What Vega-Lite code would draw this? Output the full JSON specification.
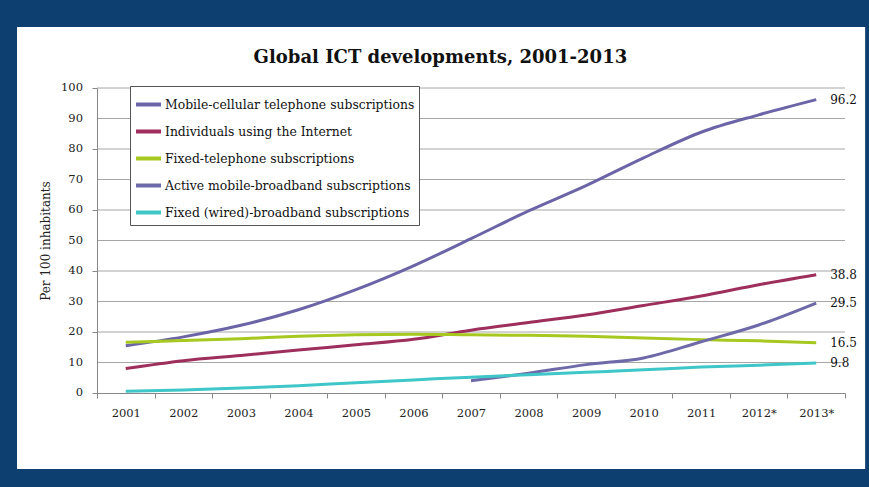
{
  "$schema": "https://vega.github.io/schema/vega-lite/v6.json",
  "width": 748,
  "height": 305,
  "autosize": {"type": "none"},
  "padding": {"left": 97, "top": 88, "right": 24, "bottom": 94},
  "background": "#0d3f70",
  "title": {
    "text": "Global ICT developments, 2001-2013",
    "font": "DejaVu Serif",
    "fontSize": 18,
    "fontWeight": "bold",
    "color": "#111111",
    "anchor": "middle",
    "frame": "bounds",
    "offset": -40,
    "dx": -5
  },
  "config": {
    "view": {"stroke": null}
  },
  "datasets": {
    "series": [
      {"series": "Mobile-cellular telephone subscriptions", "year": 2001, "value": 15.5},
      {"series": "Mobile-cellular telephone subscriptions", "year": 2002, "value": 18.4},
      {"series": "Mobile-cellular telephone subscriptions", "year": 2003, "value": 22.2},
      {"series": "Mobile-cellular telephone subscriptions", "year": 2004, "value": 27.3},
      {"series": "Mobile-cellular telephone subscriptions", "year": 2005, "value": 33.9},
      {"series": "Mobile-cellular telephone subscriptions", "year": 2006, "value": 41.7},
      {"series": "Mobile-cellular telephone subscriptions", "year": 2007, "value": 50.6},
      {"series": "Mobile-cellular telephone subscriptions", "year": 2008, "value": 59.7},
      {"series": "Mobile-cellular telephone subscriptions", "year": 2009, "value": 68.0},
      {"series": "Mobile-cellular telephone subscriptions", "year": 2010, "value": 77.1},
      {"series": "Mobile-cellular telephone subscriptions", "year": 2011, "value": 85.5},
      {"series": "Mobile-cellular telephone subscriptions", "year": 2012, "value": 91.2},
      {"series": "Mobile-cellular telephone subscriptions", "year": 2013, "value": 96.2},
      {"series": "Individuals using the Internet", "year": 2001, "value": 8.0},
      {"series": "Individuals using the Internet", "year": 2002, "value": 10.6},
      {"series": "Individuals using the Internet", "year": 2003, "value": 12.3},
      {"series": "Individuals using the Internet", "year": 2004, "value": 14.1},
      {"series": "Individuals using the Internet", "year": 2005, "value": 15.8},
      {"series": "Individuals using the Internet", "year": 2006, "value": 17.6},
      {"series": "Individuals using the Internet", "year": 2007, "value": 20.6},
      {"series": "Individuals using the Internet", "year": 2008, "value": 23.1},
      {"series": "Individuals using the Internet", "year": 2009, "value": 25.6},
      {"series": "Individuals using the Internet", "year": 2010, "value": 28.7},
      {"series": "Individuals using the Internet", "year": 2011, "value": 31.8},
      {"series": "Individuals using the Internet", "year": 2012, "value": 35.5},
      {"series": "Individuals using the Internet", "year": 2013, "value": 38.8},
      {"series": "Fixed-telephone subscriptions", "year": 2001, "value": 16.6},
      {"series": "Fixed-telephone subscriptions", "year": 2002, "value": 17.2},
      {"series": "Fixed-telephone subscriptions", "year": 2003, "value": 17.8},
      {"series": "Fixed-telephone subscriptions", "year": 2004, "value": 18.6},
      {"series": "Fixed-telephone subscriptions", "year": 2005, "value": 19.1},
      {"series": "Fixed-telephone subscriptions", "year": 2006, "value": 19.3},
      {"series": "Fixed-telephone subscriptions", "year": 2007, "value": 19.1},
      {"series": "Fixed-telephone subscriptions", "year": 2008, "value": 18.9},
      {"series": "Fixed-telephone subscriptions", "year": 2009, "value": 18.6},
      {"series": "Fixed-telephone subscriptions", "year": 2010, "value": 18.0},
      {"series": "Fixed-telephone subscriptions", "year": 2011, "value": 17.5},
      {"series": "Fixed-telephone subscriptions", "year": 2012, "value": 17.1},
      {"series": "Fixed-telephone subscriptions", "year": 2013, "value": 16.5},
      {"series": "Active mobile-broadband subscriptions", "year": 2007, "value": 4.0},
      {"series": "Active mobile-broadband subscriptions", "year": 2008, "value": 6.5},
      {"series": "Active mobile-broadband subscriptions", "year": 2009, "value": 9.3},
      {"series": "Active mobile-broadband subscriptions", "year": 2010, "value": 11.5},
      {"series": "Active mobile-broadband subscriptions", "year": 2011, "value": 16.8},
      {"series": "Active mobile-broadband subscriptions", "year": 2012, "value": 22.3},
      {"series": "Active mobile-broadband subscriptions", "year": 2013, "value": 29.5},
      {"series": "Fixed (wired)-broadband subscriptions", "year": 2001, "value": 0.6},
      {"series": "Fixed (wired)-broadband subscriptions", "year": 2002, "value": 1.0},
      {"series": "Fixed (wired)-broadband subscriptions", "year": 2003, "value": 1.6},
      {"series": "Fixed (wired)-broadband subscriptions", "year": 2004, "value": 2.4},
      {"series": "Fixed (wired)-broadband subscriptions", "year": 2005, "value": 3.4},
      {"series": "Fixed (wired)-broadband subscriptions", "year": 2006, "value": 4.3},
      {"series": "Fixed (wired)-broadband subscriptions", "year": 2007, "value": 5.2},
      {"series": "Fixed (wired)-broadband subscriptions", "year": 2008, "value": 6.0},
      {"series": "Fixed (wired)-broadband subscriptions", "year": 2009, "value": 6.8},
      {"series": "Fixed (wired)-broadband subscriptions", "year": 2010, "value": 7.6},
      {"series": "Fixed (wired)-broadband subscriptions", "year": 2011, "value": 8.5},
      {"series": "Fixed (wired)-broadband subscriptions", "year": 2012, "value": 9.1},
      {"series": "Fixed (wired)-broadband subscriptions", "year": 2013, "value": 9.8}
    ],
    "grid": [
      {"g": 0}, {"g": 10}, {"g": 20}, {"g": 30}, {"g": 40}, {"g": 50},
      {"g": 60}, {"g": 70}, {"g": 80}, {"g": 90}, {"g": 100}
    ]
  },
  "layer": [
    {
      "data": {"values": [{}]},
      "mark": {"type": "rect", "fill": "#ffffff", "clip": false},
      "encoding": {
        "x": {
          "datum": 1999.11,
          "type": "quantitative",
          "scale": {"domain": [2000.5, 2013.5], "nice": false, "zero": false},
          "axis": {
            "zindex": 2,
            "title": null,
            "values": [2000.5, 2001.5, 2002.5, 2003.5, 2004.5, 2005.5, 2006.5, 2007.5, 2008.5, 2009.5, 2010.5, 2011.5, 2012.5, 2013.5],
            "labelExpr": "datum.value > 2013 ? '' : (datum.value > 2011 ? toString(datum.value + 0.5) + '*' : toString(datum.value + 0.5))",
            "labelOffset": 28.77,
            "labelFlush": false,
            "labelOverlap": false,
            "labelBound": false,
            "labelFont": "DejaVu Serif",
            "labelFontSize": 11.5,
            "labelColor": "#222222",
            "labelPadding": 9,
            "tickSize": 5,
            "tickColor": "#888888",
            "domainColor": "#888888",
            "grid": false
          }
        },
        "x2": {"datum": 2013.85},
        "y": {
          "datum": 120,
          "type": "quantitative",
          "scale": {"domain": [0, 100], "nice": false, "zero": false},
          "axis": {
            "zindex": 2,
            "title": "Per 100 inhabitants",
            "titleFont": "DejaVu Serif",
            "titleFontSize": 12,
            "titleFontWeight": "normal",
            "titleColor": "#222222",
            "titlePadding": 39,
            "values": [0, 10, 20, 30, 40, 50, 60, 70, 80, 90, 100],
            "labels": false,
            "tickSize": 5,
            "tickColor": "#888888",
            "domainColor": "#888888",
            "grid": false
          }
        },
        "y2": {"datum": -24.9}
      }
    },
    {
      "data": {"name": "grid"},
      "transform": [{"filter": "datum.g > 0"}],
      "mark": {"type": "rule", "color": "#a6a6a6", "strokeWidth": 1},
      "encoding": {
        "y": {"field": "g", "type": "quantitative"}
      }
    },
    {
      "data": {"name": "grid"},
      "mark": {"type": "text", "align": "right", "baseline": "middle", "dx": -14, "font": "DejaVu Serif", "fontSize": 11.5, "color": "#222222", "clip": false},
      "encoding": {
        "x": {"datum": 2000.5, "type": "quantitative"},
        "y": {"field": "g", "type": "quantitative"},
        "text": {"field": "g", "type": "quantitative", "format": "d"}
      }
    },
    {
      "data": {"name": "series"},
      "mark": {"type": "line", "strokeWidth": 3, "interpolate": "monotone"},
      "encoding": {
        "x": {"field": "year", "type": "quantitative"},
        "y": {"field": "value", "type": "quantitative"},
        "color": {
          "field": "series",
          "type": "nominal",
          "scale": {
            "domain": [
              "Mobile-cellular telephone subscriptions",
              "Individuals using the Internet",
              "Fixed-telephone subscriptions",
              "Active mobile-broadband subscriptions",
              "Fixed (wired)-broadband subscriptions"
            ],
            "range": ["#6b65a8", "#9e2f5c", "#a6c81f", "#6e6aa9", "#3fc6c8"]
          },
          "legend": {
            "title": null,
            "orient": "none",
            "legendX": 33,
            "legendY": -2,
            "direction": "vertical",
            "symbolType": "stroke",
            "symbolSize": 625,
            "symbolStrokeWidth": 4,
            "labelFont": "DejaVu Serif",
            "labelFontSize": 12.4,
            "labelColor": "#111111",
            "labelLimit": 400,
            "labelOffset": 2,
            "rowPadding": 4,
            "padding": 4,
            "strokeColor": "#555555",
            "fillColor": "#ffffff"
          }
        }
      }
    },
    {
      "data": {"name": "series"},
      "transform": [{"filter": "datum.year == 2013"}],
      "mark": {"type": "text", "align": "left", "dx": 14, "font": "DejaVu Serif", "fontSize": 12, "color": "#111111"},
      "encoding": {
        "x": {"field": "year", "type": "quantitative"},
        "y": {"field": "value", "type": "quantitative"},
        "text": {"field": "value", "type": "quantitative", "format": ".1f"}
      }
    }
  ]
}
